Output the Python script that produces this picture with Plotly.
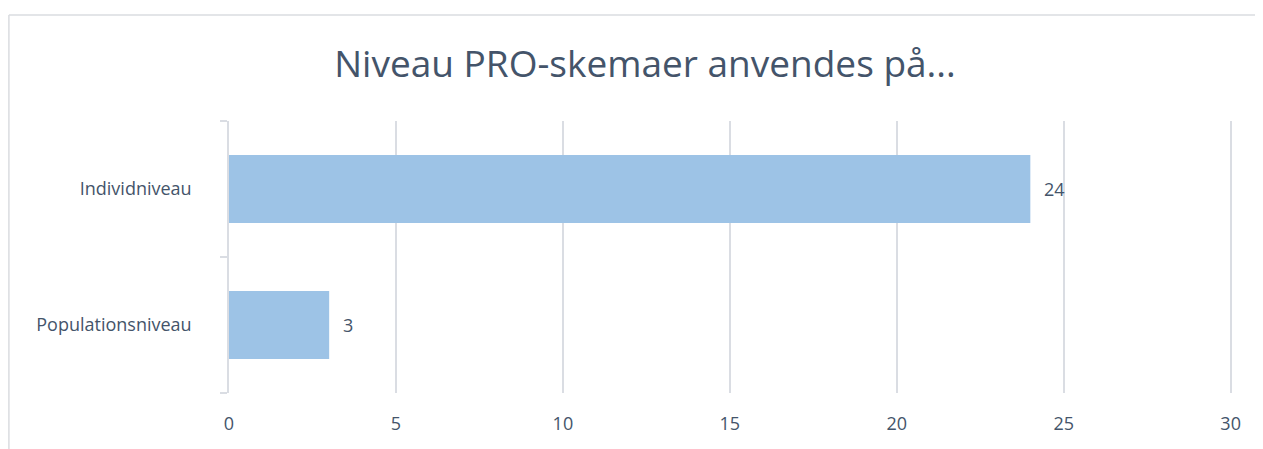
import plotly.graph_objects as go

categories = ["Populationsniveau", "Individniveau"]
values = [3, 24]
x_ticks = [0, 5, 10, 15, 20, 25, 30]
title_text = "Niveau PRO-skemaer anvendes på..."

text_color = "#44546A"
grid_color = "#DADDE3"
font_family = "Open Sans, Noto Sans, sans-serif"

fig = go.Figure()
fig.add_trace(go.Bar(
    x=values, y=categories, orientation="h",
    marker=dict(color="#9DC3E6", line=dict(width=0)),
    width=0.5, hoverinfo="skip",
))

for v, c in zip(values, categories):
    fig.add_annotation(x=v, y=c, xref="x", yref="y", text=str(v),
                       showarrow=False, xanchor="left", xshift=12,
                       font=dict(size=18, color=text_color, family=font_family))

# chart-area frame (only top and left edges are visible in the cropped reference)
border = dict(color="#DADCE0", width=1.5)
fig.add_shape(type="line", xref="paper", yref="paper",
              x0=-0.219, x1=1.2, y0=1.39, y1=1.39, line=border, layer="below")
fig.add_shape(type="line", xref="paper", yref="paper",
              x0=-0.219, x1=-0.219, y0=-0.4, y1=1.39, line=border, layer="below")

fig.update_layout(
    width=1263, height=449,
    margin=dict(l=221, r=37, t=113, b=64),
    paper_bgcolor="white", plot_bgcolor="white",
    showlegend=False,
    font=dict(family=font_family, color=text_color, size=18),
    title=dict(text=title_text, x=637 / 1263, xref="container", xanchor="center",
               y=1 - 56 / 449, yref="container", yanchor="middle",
               font=dict(size=37, color=text_color, family=font_family)),
    xaxis=dict(range=[0, 30.1], tickvals=x_ticks, showgrid=True, gridcolor=grid_color,
               gridwidth=1.5, zeroline=False, showline=False, ticks="",
               ticklabelstandoff=18, tickfont=dict(size=18, color=text_color)),
    yaxis=dict(showgrid=False, zeroline=False, showline=True, linecolor=grid_color,
               linewidth=1.5, ticks="outside", tickson="boundaries", ticklen=7,
               tickcolor=grid_color, tickwidth=1.5, ticklabelstandoff=32,
               tickfont=dict(size=18, color=text_color)),
)

fig.write_html("out.html")
